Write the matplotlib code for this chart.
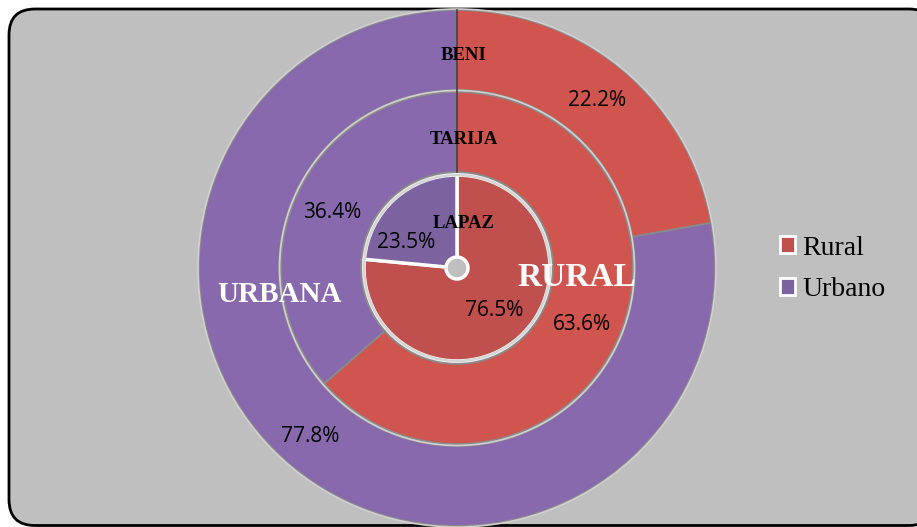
import matplotlib
matplotlib.use("Agg")
import matplotlib.pyplot as plt
from matplotlib.patches import FancyBboxPatch, Circle, Patch

categories = ["Rural", "Urbano"]
regions = ["LAPAZ", "TARIJA", "BENI"]
lapaz = [76.5, 23.5]
tarija = [63.6, 36.4]
beni = [22.2, 77.8]

W, H = 917, 527
fig = plt.figure(figsize=(W / 100, H / 100), dpi=100)
fig.patch.set_facecolor("white")
ax = fig.add_axes([0, 0, 1, 1])
ax.set_xlim(0, W)
ax.set_ylim(0, H)
ax.set_aspect("equal")
ax.axis("off")

# frame
frame = FancyBboxPatch((9, 1.5), 926, H - 10.5, boxstyle="round,pad=0,rounding_size=26",
                       facecolor="#bfbfbf", edgecolor="black", linewidth=2.0, zorder=0)
ax.add_patch(frame)

cx, cy = 457, H - 268
red_ring = "#d0554f"
pur_ring = "#8869ad"
red_pie = "#c0504d"
pur_pie = "#7d62a0"
edge = "#8a8a8a"

# outer ring: BENI
w1, _ = ax.pie(beni, radius=258, center=(cx, cy), startangle=90, counterclock=False,
               colors=[red_ring, pur_ring],
               wedgeprops=dict(width=80, edgecolor=edge, linewidth=1.3),
               frame=True)
# middle ring: TARIJA
w2, _ = ax.pie(tarija, radius=176, center=(cx, cy), startangle=90, counterclock=False,
               colors=[red_ring, pur_ring],
               wedgeprops=dict(width=80, edgecolor=edge, linewidth=1.3),
               frame=True)
# inner pie: LAPAZ
w3, _ = ax.pie(lapaz, radius=93, center=(cx, cy), startangle=90, counterclock=False,
               colors=[red_pie, pur_pie],
               wedgeprops=dict(edgecolor="white", linewidth=2.5),
               frame=True)
ax.add_patch(Circle((cx, cy), 93, facecolor="none", edgecolor="#d5d5d5", linewidth=1.8, zorder=3))
for r in (177.5, 259):
    ax.add_patch(Circle((cx, cy), r, facecolor="none", edgecolor="#d0d0d0", linewidth=1.2, zorder=3))
# dark separation line at top of rings
ax.plot([cx, cx], [cy + 96, cy + 258], color="#404040", linewidth=1.2, zorder=4)
# center hub
ax.add_patch(Circle((cx, cy), 11, facecolor="#bfbfbf", edgecolor="white", linewidth=2.5, zorder=6))

ax.set_xlim(0, W)
ax.set_ylim(0, H)
ax.axis("off")

# region labels
serif = "Liberation Serif"
for name, y in [(regions[2], 56), (regions[1], 140), (regions[0], 223)]:
    ax.text(464, H - y, name, ha="center", va="center", fontsize=13.5, fontweight="bold",
            family=serif, color="black", zorder=7)

ax.text(577, H - 277, "RURAL", ha="center", va="center", fontsize=24, fontweight="bold",
        family=serif, color="white", zorder=7)
ax.text(280, H - 295, "URBANA", ha="center", va="center", fontsize=21, fontweight="bold",
        family=serif, color="white", zorder=7)

# percentage labels
sans = "Open Sans"
pct = [(597, 101, beni[0]), (310, 437, beni[1]),
       (582, 325, tarija[0]), (332, 213, tarija[1]),
       (494, 310, lapaz[0]), (406, 243, lapaz[1])]
for x, y, v in pct:
    ax.text(x, H - y, f"{v:.1f}%", ha="center", va="center", fontsize=15,
            family=sans, color="black", zorder=7)

# legend
handles = [Patch(facecolor=red_pie, edgecolor="white", linewidth=2),
           Patch(facecolor=pur_pie, edgecolor="white", linewidth=2)]
leg = ax.legend(handles, categories, loc="center left", bbox_to_anchor=(780 / W, 1 - 269 / H),
                frameon=False, prop=dict(family=serif, size=20), borderpad=0,
                handlelength=0.55, handleheight=0.55, handletextpad=0.25, labelspacing=0.6,
                borderaxespad=0)

fig.savefig("out.png", dpi=100, facecolor="white")
